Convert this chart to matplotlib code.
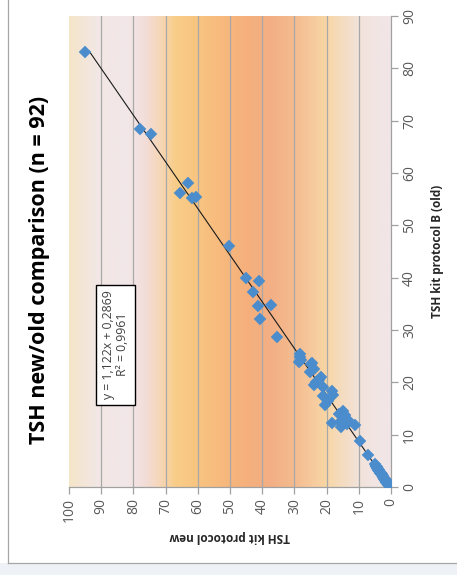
import numpy as np
import matplotlib
matplotlib.use("Agg")
import matplotlib.pyplot as plt
from matplotlib.colors import LinearSegmentedColormap
from matplotlib.patches import Rectangle
from matplotlib.lines import Line2D

# ---------------- data ----------------
title = "TSH new/old comparison (n = 92)"
old_label = "TSH kit protocol B (old)"
new_label = "TSH kit protocol new"
eq_text = "y = 1,122x + 0,2869\nR\u00b2 = 0,9961"
slope, intercept = 1.122, 0.2869

old_vals = [83.2, 68.4, 67.4, 58.1, 56.2, 55.3, 55.4, 46.1, 39.9, 39.4,
            37.2, 34.5, 34.8, 32.1, 28.6, 25.4, 24.9, 24.2, 23.8, 23.6,
            23.5, 21.9, 21.1, 19.5, 19.2, 18.4, 17.3, 17.6, 15.7, 12.2,
            12.5, 13.8, 12.8, 11.9, 11.4, 8.7, 6.1, 20.5, 22.5, 14.5,
            13.2, 12.0, 14.0, 20.0, 16.5, 4.3, 4.1, 4.0, 3.9, 3.8,
            3.7, 3.6, 3.5, 3.4, 3.3, 3.2, 3.1, 3.0, 2.9, 2.8,
            2.7, 2.6, 2.5, 2.4, 2.3, 2.2, 2.1, 2.0, 1.9, 1.8,
            1.7, 1.6, 1.5, 1.45, 1.4, 1.3, 1.25, 1.2, 1.1, 1.05,
            1.0, 0.95, 0.9, 0.85, 0.8, 0.75, 0.7, 0.65, 0.6, 0.55,
            0.5, 0.4]
new_vals = [95.0, 77.8, 74.4, 62.9, 65.4, 61.8, 60.5, 50.3, 44.9, 41.1,
            42.9, 41.3, 37.2, 40.8, 35.4, 28.3, 28.4, 27.8, 28.6, 24.5,
            25.0, 25.2, 21.6, 24.0, 21.1, 18.2, 21.1, 18.0, 20.6, 18.2,
            15.9, 14.3, 13.3, 11.2, 15.4, 9.7, 7.1, 22.5, 24.0, 15.0,
            14.8, 13.8, 16.2, 23.2, 19.5, 5.1, 4.6, 4.7, 4.5, 4.4,
            4.3, 4.2, 4.0, 4.1, 3.9, 3.8, 3.7, 3.6, 3.5, 3.4,
            3.3, 3.2, 3.1, 2.9, 2.8, 2.7, 2.6, 2.5, 2.4, 2.3,
            2.2, 2.1, 2.0, 1.9, 1.9, 1.8, 1.7, 1.6, 1.5, 1.5,
            1.4, 1.4, 1.3, 1.2, 1.2, 1.1, 1.1, 1.0, 1.0, 0.9,
            0.9, 0.8]

new_ticks = [0, 10, 20, 30, 40, 50, 60, 70, 80, 90, 100]
old_ticks = [0, 10, 20, 30, 40, 50, 60, 70, 80, 90]

# background gradient stops (value along "new" axis, colour)
grad_stops = [(0, "#f1e6e8"), (5, "#f1e5e3"), (10, "#f2e2d8"), (15, "#f5dcc0"),
              (20, "#f8d6a4"), (25, "#f6c89c"), (30, "#f4bb8e"), (38, "#f3ae84"),
              (45, "#f5b07c"), (52, "#f7b97d"), (60, "#f8c480"), (67, "#f9cd88"),
              (71, "#f6d5b0"), (76, "#f3dcd6"), (82, "#f2e7e9"), (92, "#f2e7e4"),
              (100, "#f5e5c9")]

# ---------------- figure ----------------
W, H = 457, 575
fig = plt.figure(figsize=(W / 100, H / 100), dpi=100)
fig.patch.set_facecolor("white")

# outer frame + light strip below
fig.add_artist(Rectangle((0, 0), 1, 12 / H, transform=fig.transFigure,
                         facecolor="#eef2f6", edgecolor="none", zorder=0))
fig.add_artist(Line2D([8 / W, 8 / W], [12 / H, 1], transform=fig.transFigure,
                      color="#a6a6a6", lw=0.9))
fig.add_artist(Line2D([8 / W, 1], [12 / H, 12 / H], transform=fig.transFigure,
                      color="#a6a6a6", lw=0.9))

L, R, B, T = 69, 391, 487, 16
ax = fig.add_axes([L / W, 1 - B / H, (R - L) / W, (B - T) / H])

# gradient background
cmap = LinearSegmentedColormap.from_list(
    "bg", [(v / 100.0, c) for v, c in grad_stops])
grad = np.linspace(0, 1, 400).reshape(1, -1)
ax.imshow(grad, cmap=cmap, aspect="auto", extent=[0, 100, 0, 90],
          origin="lower", zorder=0, interpolation="bilinear")

ax.set_xlim(100, 0)
ax.set_ylim(0, 90)

for v in new_ticks[1:-1]:
    ax.axvline(v, color="#a8a8a8", lw=0.9, zorder=1)

# trendline
xo = np.array([min(old_vals), max(old_vals)])
ax.plot(slope * xo + intercept, xo, color="#1a1a1a", lw=0.8, zorder=3)

ax.plot(new_vals, old_vals, linestyle="none", marker="D", ms=6.2,
        mfc="#4a8ccc", mec="#4a8ccc", mew=0.3, zorder=4)

for s in ["left", "top"]:
    ax.spines[s].set_visible(False)
for s in ["right", "bottom"]:
    ax.spines[s].set_color("#a0a0a0")
    ax.spines[s].set_linewidth(0.9)

ax.yaxis.tick_right()
ax.set_xticks(new_ticks)
ax.set_yticks(old_ticks)
tick_font = dict(family="Open Sans", size=10, color="#595959")
ax.set_xticklabels([str(t) for t in new_ticks], rotation=90, **tick_font)
ax.set_yticklabels([str(t) for t in old_ticks], rotation=90, va="center", **tick_font)
ax.tick_params(axis="both", direction="out", length=5, width=0.9, color="#a0a0a0", pad=3)

# texts
fig.text(40 / W, 1 - 270 / H, title, rotation=90, ha="center", va="center",
         fontsize=15.5, fontweight="bold", family="Open Sans", color="#000000")
fig.text(438 / W, 1 - 251 / H, old_label, rotation=90, ha="center", va="center",
         fontsize=8.5, fontweight="bold", family="Open Sans", color="#262626")
fig.text(230 / W, 1 - 537 / H, new_label, rotation=180, ha="center", va="center",
         fontsize=8.5, fontweight="bold", family="Open Sans", color="#262626")

ax.text(85.6, 27.2, eq_text, rotation=90, ha="center", va="center",
        multialignment="center", fontsize=8.8, family="Open Sans", color="#404040",
        zorder=5, linespacing=1.15,
        bbox=dict(boxstyle="square,pad=0.45", facecolor="white",
                  edgecolor="#000000", lw=1.0))

fig.savefig("out.png", dpi=100, facecolor=fig.get_facecolor())
